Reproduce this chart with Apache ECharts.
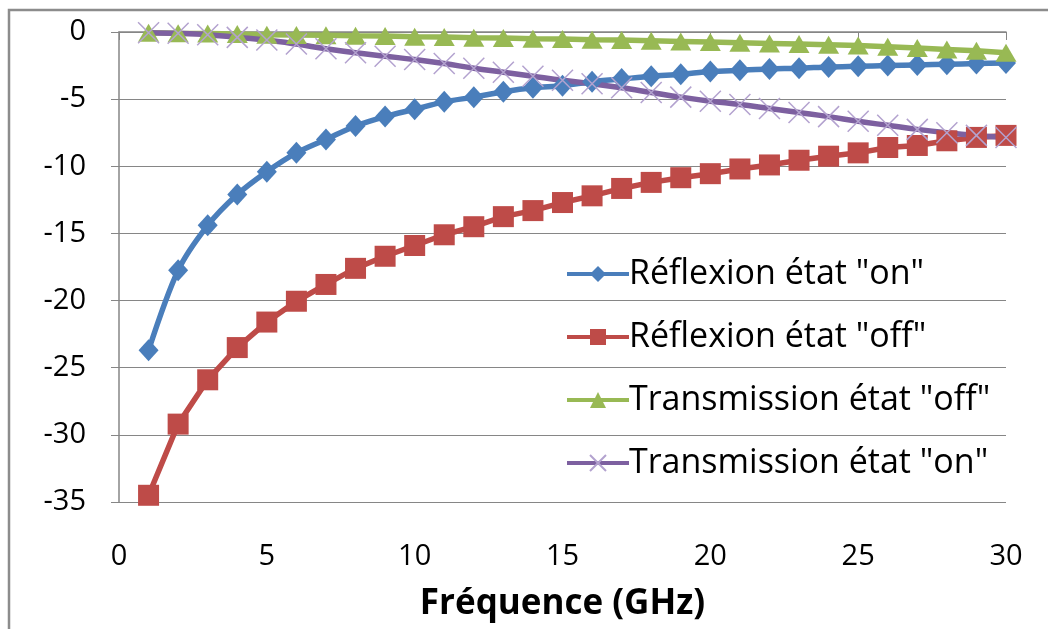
<!DOCTYPE html>
<html>
<head>
<meta charset="utf-8">
<script src="https://cdn.jsdelivr.net/npm/echarts@6/dist/echarts.min.js"></script>
<style>
  html, body { margin: 0; padding: 0; background: #fff; }
  #chart { width: 1048px; height: 629px; }
</style>
</head>
<body>
<div id="chart"></div>
<script>
// frequency points (GHz)
const freq = [1,2,3,4,5,6,7,8,9,10,11,12,13,14,15,16,17,18,19,20,21,22,23,24,25,26,27,28,29,30];

const reflexOn = [-23.7,-17.75,-14.4,-12.1,-10.4,-9.0,-8.0,-7.0,-6.3,-5.75,-5.2,-4.85,-4.45,-4.15,-4.0,
  -3.7,-3.5,-3.3,-3.15,-2.95,-2.85,-2.75,-2.7,-2.6,-2.55,-2.5,-2.45,-2.4,-2.35,-2.3];
const reflexOff = [-34.5,-29.2,-25.9,-23.5,-21.6,-20.05,-18.8,-17.6,-16.7,-15.9,-15.1,-14.5,-13.75,-13.3,-12.7,
  -12.2,-11.65,-11.2,-10.85,-10.55,-10.2,-9.9,-9.55,-9.25,-9.0,-8.6,-8.45,-8.1,-7.85,-7.7];
const transOff = [-0.05,-0.1,-0.12,-0.15,-0.2,-0.22,-0.25,-0.28,-0.3,-0.35,-0.38,-0.42,-0.45,-0.5,-0.52,
  -0.57,-0.6,-0.65,-0.7,-0.75,-0.8,-0.85,-0.9,-0.95,-1.0,-1.1,-1.2,-1.3,-1.4,-1.55];
const transOn = [-0.05,-0.1,-0.2,-0.4,-0.6,-0.9,-1.25,-1.55,-1.8,-2.05,-2.35,-2.7,-3.0,-3.3,-3.6,
  -3.85,-4.15,-4.5,-4.85,-5.15,-5.4,-5.7,-6.0,-6.3,-6.65,-6.95,-7.25,-7.5,-7.7,-7.85];

const seriesNames = ['Réflexion état "on"', 'Réflexion état "off"', 'Transmission état "off"', 'Transmission état "on"'];

const pairs = arr => freq.map((f, i) => [f, arr[i]]);
const FONT = '"Open Sans", "Noto Sans", sans-serif';

const chart = echarts.init(document.getElementById('chart'));
chart.setOption({
  backgroundColor: '#fff',
  animation: false,
  textStyle: { fontFamily: FONT },
  graphic: [{
    type: 'rect', silent: true,
    shape: { x: 9, y: 10, width: 1100, height: 700 },
    style: { fill: 'none', stroke: '#8c8c8c', lineWidth: 2.5 }
  }],
  grid: { left: 119, right: 42, top: 32, bottom: 127 },
  legend: {
    orient: 'vertical', left: 560, top: 252,
    itemWidth: 62, itemHeight: 20, itemGap: 29,
    lineStyle: { width: 4 },
    textStyle: { fontSize: 34, color: '#000', fontFamily: FONT, padding: [0, 0, 0, -5] },
    data: seriesNames
  },
  xAxis: {
    type: 'value', min: 0, max: 30, interval: 5,
    name: 'Fréquence (GHz)', nameLocation: 'middle', nameGap: 85,
    nameTextStyle: { fontSize: 35, fontWeight: 'bold', color: '#000', fontFamily: FONT },
    axisLine: { lineStyle: { color: '#868686', width: 1.5 } },
    axisTick: { length: 8, lineStyle: { color: '#868686' } },
    axisLabel: { fontSize: 29, color: '#000', margin: 40 },
    splitLine: { show: false }
  },
  yAxis: {
    type: 'value', min: -35, max: 0, interval: 5,
    axisLine: { show: true, lineStyle: { color: '#868686', width: 1.5 } },
    axisTick: { show: true, length: 8, lineStyle: { color: '#868686' } },
    axisLabel: { fontSize: 29, color: '#000', margin: 33 },
    splitLine: { lineStyle: { color: '#868686', width: 1.2 } }
  },
  series: [
    {
      name: seriesNames[0], type: 'line', data: pairs(reflexOn), smooth: 0.3,
      symbol: 'diamond', symbolSize: [20, 22],
      lineStyle: { color: '#4a7ebb', width: 5.5 },
      itemStyle: { color: '#4a7ebb' }
    },
    {
      name: seriesNames[1], type: 'line', data: pairs(reflexOff),
      symbol: 'rect', symbolSize: 21,
      lineStyle: { color: '#be4b48', width: 5.5 },
      itemStyle: { color: '#be4b48' }
    },
    {
      name: seriesNames[2], type: 'line', data: pairs(transOff),
      symbol: 'triangle', symbolSize: [21, 18],
      lineStyle: { color: '#98b954', width: 5.5 },
      itemStyle: { color: '#98b954' }
    },
    {
      name: seriesNames[3], type: 'line', data: pairs(transOn), smooth: 0.4,
      symbol: 'path://M0,0L10,10M10,0L0,10', symbolSize: 21,
      lineStyle: { color: '#7d60a0', width: 5.5 },
      itemStyle: { color: 'none', borderColor: '#b3a2cf', borderWidth: 1.5 }
    }
  ]
});
</script>
</body>
</html>
